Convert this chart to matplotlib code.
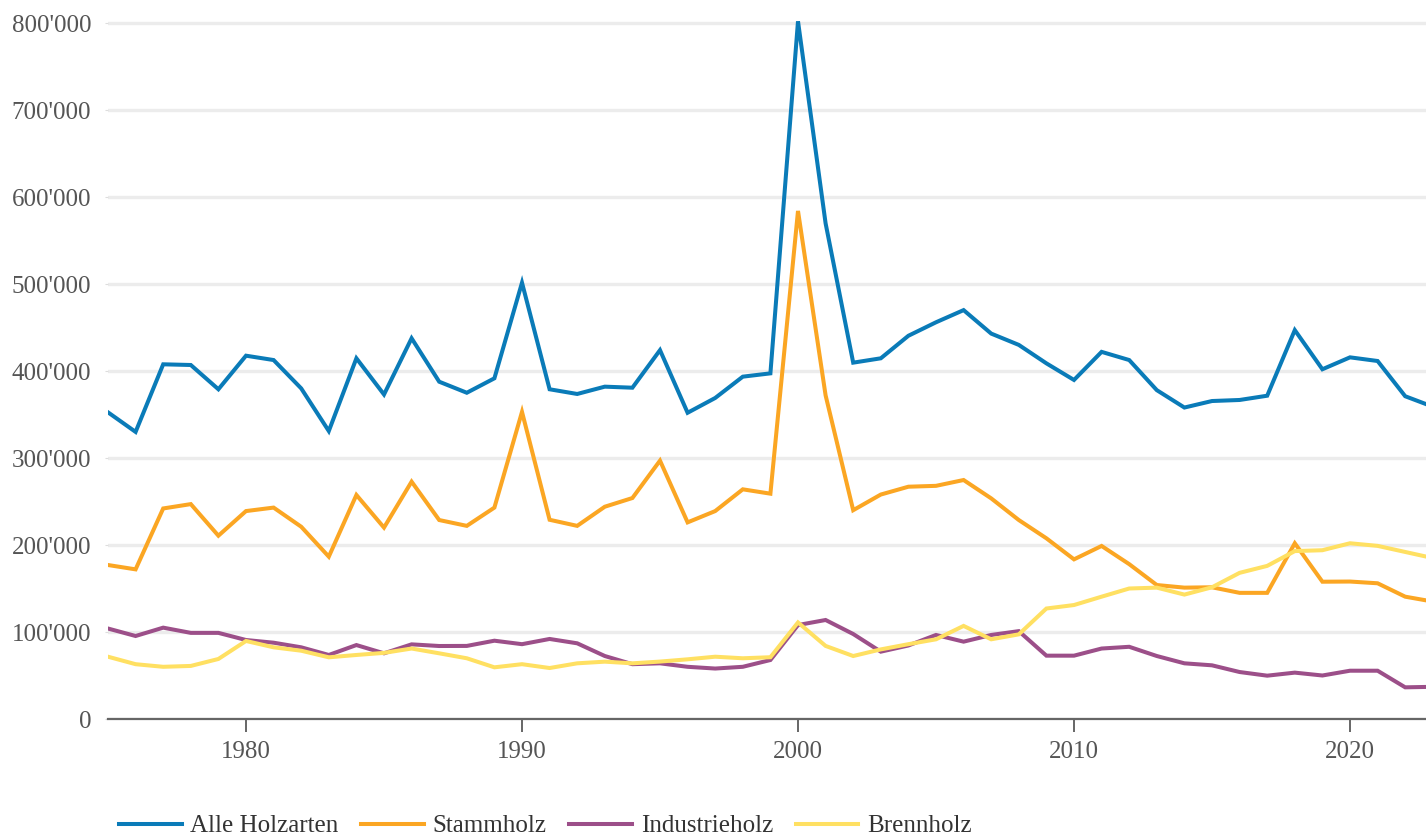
import matplotlib
matplotlib.use('Agg')
import matplotlib.pyplot as plt
from matplotlib.ticker import FuncFormatter

plt.rcParams['font.family'] = ['Liberation Serif', 'DejaVu Serif']

years = list(range(1975, 2024))

# Holzernte in m3
alle_holzarten = [352500, 330000, 407700, 406900, 379000, 417600, 412600, 380000, 331000, 414600,
                  373000, 437600, 387700, 375000, 391600, 501500, 379000, 373600, 382000, 380800,
                  424000, 352000, 369000, 393500, 397300, 802000, 569700, 409600, 414600, 440500,
                  456000, 470000, 443000, 430000, 408800, 389700, 422000, 412600, 378000, 358000,
                  365500, 366700, 371600, 447000, 402000, 415700, 411500, 371000, 359000]
stammholz = [177000, 172000, 242000, 247000, 210700, 239000, 243000, 221000, 186600, 257500,
             220000, 272800, 228700, 222000, 243000, 353000, 229000, 222000, 244000, 254000,
             297000, 226000, 239000, 264000, 259000, 584000, 372000, 240000, 258000, 267000,
             268000, 274700, 253600, 228700, 207700, 183500, 198900, 178000, 154000, 151000,
             151400, 145000, 145000, 202000, 157800, 158000, 156000, 140600, 135000]
industrieholz = [104000, 95400, 105000, 99000, 99000, 90800, 87700, 82400, 73600, 85000,
                 75500, 85800, 83900, 84000, 90000, 86000, 92000, 87000, 72400, 63000,
                 64000, 60000, 58000, 60000, 67800, 108000, 113800, 97700, 77400, 84500,
                 96600, 88900, 96600, 101000, 72800, 72800, 81000, 83000, 72400, 64000,
                 61700, 54000, 49800, 53300, 50000, 55500, 55500, 36400, 37000]
brennholz = [71600, 63000, 60000, 61000, 69000, 89700, 82400, 78500, 70900, 73600,
             76000, 81000, 75500, 69800, 59400, 63000, 58600, 64000, 65900, 64000,
             66000, 68600, 71600, 69800, 71000, 111000, 84000, 72400, 80000, 86000,
             91600, 107000, 91600, 97300, 127000, 131000, 140600, 150000, 151000, 143000,
             151400, 168000, 176000, 193000, 194000, 202000, 199000, 192000, 185000]

series = [('Alle Holzarten', alle_holzarten, '#0a7bb8'),
          ('Stammholz', stammholz, '#fba623'),
          ('Industrieholz', industrieholz, '#9c4f89'),
          ('Brennholz', brennholz, '#ffe062')]

fig = plt.figure(figsize=(14.26, 8.36), dpi=100)
ax = fig.add_axes([108/1426, 117/836, 1318/1426, 714/836])

for name, vals, col in series:
    ax.plot(years, vals, color=col, lw=2.9, label=name, solid_joinstyle='miter', zorder=3)

ax.set_xlim(1975, 1975 + 1318/27.6)
ax.set_ylim(0, 820700)
ax.set_yticks(range(0, 800001, 100000))
ax.set_xticks([1980, 1990, 2000, 2010, 2020])
ax.yaxis.set_major_formatter(FuncFormatter(lambda v, p: f"{int(v):,}".replace(',', "'")))

ax.grid(axis='y', color='#ececec', lw=2.4, zorder=0)
ax.grid(axis='x', visible=False)
for s in ['top', 'right', 'left']:
    ax.spines[s].set_visible(False)
ax.spines['bottom'].set_color('#666666')
ax.spines['bottom'].set_linewidth(1.6)
ax.spines['bottom'].set_zorder(4)

ax.tick_params(axis='y', length=2, color='#dddddd', labelsize=18, labelcolor='#555555', pad=10)
ax.tick_params(axis='x', length=9, width=1.4, color='#666666', labelsize=18,
               labelcolor='#555555', pad=7)

fig.legend(loc='center left', bbox_to_anchor=(119/1426, 1 - 826/836), ncol=4, frameon=False,
           fontsize=18, handlelength=2.5, handletextpad=0.36, columnspacing=0.9,
           borderpad=0, borderaxespad=0, labelcolor='#333333')

fig.savefig('out.png', dpi=100)
